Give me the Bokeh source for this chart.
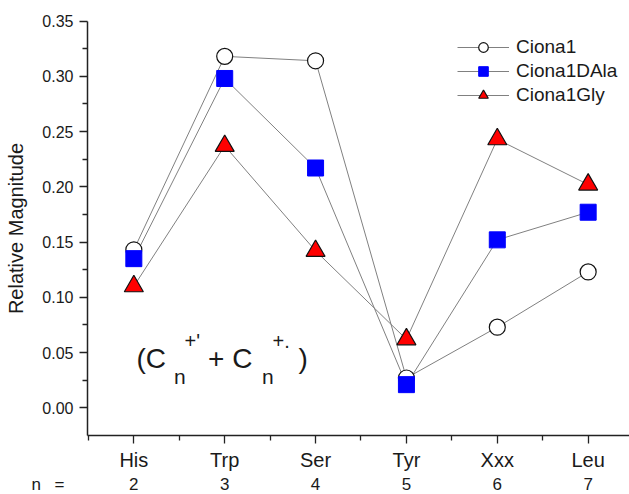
from bokeh.plotting import figure
from bokeh.models import FixedTicker, Label, Legend, LegendItem, Range1d
from bokeh.embed import file_html
from bokeh.resources import INLINE

# ---- data ----
categories = ["His", "Trp", "Ser", "Tyr", "Xxx", "Leu"]
n_values = [2, 3, 4, 5, 6, 7]
ciona1 = [0.143, 0.318, 0.314, 0.027, 0.073, 0.123]
ciona1_dala = [0.135, 0.298, 0.217, 0.021, 0.152, 0.177]
ciona1_gly = [0.110, 0.237, 0.142, 0.062, 0.243, 0.202]
y_ticks = [0.0, 0.05, 0.10, 0.15, 0.20, 0.25, 0.30, 0.35]

# ---- layout constants (pixel geometry of the axes box) ----
W, H = 629, 494
AX_LEFT_PX, AX_BOTTOM_PX, AX_TOP_PX = 87, 435, 20.5
XA0, XA1 = -0.51, 5.455          # x span of the axis box
YA0, YA1 = -0.025, 0.35          # y span of the axis box
PXU = (W - AX_LEFT_PX) / (XA1 - XA0)
PYU = (AX_BOTTOM_PX - AX_TOP_PX) / (YA1 - YA0)
XR0 = XA0 - AX_LEFT_PX / PXU
XR1 = XA1
YR0 = YA0 - (H - AX_BOTTOM_PX) / PYU
YR1 = YA0 + AX_BOTTOM_PX / PYU
FONT = "Liberation Sans"
TXT = "#1a1a1a"
AXC = "#222222"


def xd(px):
    return XR0 + px / PXU


def yd(py):
    return YR1 - py / PYU


def text_at(text, px, baseline_py, size_px, align="left"):
    # place text so that its baseline sits at baseline_py (label is centred vertically)
    return Label(x=xd(px), y=yd(baseline_py - 0.35 * size_px), text=text,
                 text_font=FONT, text_font_size=f"{size_px}px", text_color=TXT,
                 text_align=align, text_baseline="middle")


p = figure(width=W, height=H, x_range=Range1d(XR0, XR1), y_range=Range1d(YR0, YR1),
           output_backend="svg", toolbar_location=None,
           min_border=0, min_border_left=0, min_border_right=0, min_border_top=0,
           min_border_bottom=0, background_fill_color="white",
           border_fill_color="white")
p.outline_line_color = None
p.xgrid.grid_line_color = None
p.ygrid.grid_line_color = None

xs = list(range(len(categories)))

# x axis
xa = p.xaxis[0]
xa.fixed_location = YA0
xa.bounds = (XA0, XA1)
xa.ticker = FixedTicker(ticks=xs, minor_ticks=[i - 0.5 for i in range(len(categories) + 1)])
xa.major_label_overrides = {i: c for i, c in enumerate(categories)}
xa.axis_line_width = 1.5
xa.axis_line_color = AXC
xa.major_tick_line_color = AXC
xa.minor_tick_line_color = AXC
xa.major_tick_line_width = 1.3
xa.minor_tick_line_width = 1.3
xa.major_tick_in = 0
xa.major_tick_out = 8
xa.minor_tick_in = 0
xa.minor_tick_out = 5
xa.major_label_standoff = 5
xa.major_label_text_font = FONT
xa.major_label_text_font_size = "20px"
xa.major_label_text_color = TXT

# y axis
ya = p.yaxis[0]
ya.fixed_location = XA0
ya.bounds = (YA0, YA1)
ya.ticker = FixedTicker(ticks=y_ticks, minor_ticks=[t + 0.025 for t in y_ticks[:-1]])
ya.major_label_overrides = {t: f"{t:.2f}" for t in y_ticks}
ya.axis_line_width = 1.5
ya.axis_line_color = AXC
ya.major_tick_line_color = AXC
ya.minor_tick_line_color = AXC
ya.major_tick_line_width = 1.3
ya.minor_tick_line_width = 1.3
ya.major_tick_in = 0
ya.major_tick_out = 8
ya.minor_tick_in = 0
ya.minor_tick_out = 5
ya.major_label_standoff = 6
ya.major_label_text_font = FONT
ya.major_label_text_font_size = "16px"
ya.major_label_text_color = TXT
ya.axis_label = "Relative Magnitude"
ya.axis_label_text_font = FONT
ya.axis_label_text_font_size = "20px"
ya.axis_label_text_font_style = "normal"
ya.axis_label_text_color = TXT
ya.axis_label_standoff = 12

LINE = "#808080"

l1 = p.line(xs, ciona1, line_color=LINE, line_width=1)
l2 = p.line(xs, ciona1_dala, line_color=LINE, line_width=1)
l3 = p.line(xs, ciona1_gly, line_color=LINE, line_width=1)
s1 = p.scatter(xs, ciona1, marker="circle", size=16, fill_color="white",
               line_color="#111111", line_width=1.2)
s2 = p.scatter(xs, ciona1_dala, marker="square", size=16, fill_color="#0000ff",
               line_color="#0000ff", line_width=1)
s3 = p.scatter(xs, ciona1_gly, marker="triangle", size=19, fill_color="#ff0000",
               line_color="#111111", line_width=1.2)

legend = Legend(items=[
    LegendItem(label="Ciona1", renderers=[l1, s1]),
    LegendItem(label="Ciona1DAla", renderers=[l2, s2]),
    LegendItem(label="Ciona1Gly", renderers=[l3, s3]),
], location=(457, H - 107), glyph_width=52, glyph_height=24, label_height=24,
    spacing=0, padding=0, margin=0, label_standoff=7,
    label_text_font=FONT, label_text_font_size="19px", label_text_color=TXT,
    background_fill_alpha=0, border_line_color=None)
p.add_layout(legend)

# second row of x labels: n = 2 ... 7
ROW2_BASE, ROW2_FS = 489.5, 17
p.add_layout(text_at("n", 31, ROW2_BASE, ROW2_FS))
p.add_layout(text_at("=", 54, ROW2_BASE, ROW2_FS))
for i, n in enumerate(n_values):
    p.add_layout(Label(x=i, y=yd(ROW2_BASE - 0.35 * ROW2_FS), text=str(n), text_font=FONT,
                       text_font_size=f"{ROW2_FS}px", text_color=TXT, text_align="center",
                       text_baseline="middle"))

# annotation (C_n^{+'} + C_n^{+.})
pieces = [
    ("(C", 136, 368, 28),
    ("n", 173.5, 383, 21),
    ("+'", 184, 347, 20),
    ("+ C", 207.5, 368, 28),
    ("n", 261.5, 383, 21),
    ("+.", 272, 347, 20),
    (")", 298, 368, 28),
]
for t, px, py, fs in pieces:
    p.add_layout(text_at(t, px, py, fs))

open("out.html", "w").write(file_html(p, INLINE))
